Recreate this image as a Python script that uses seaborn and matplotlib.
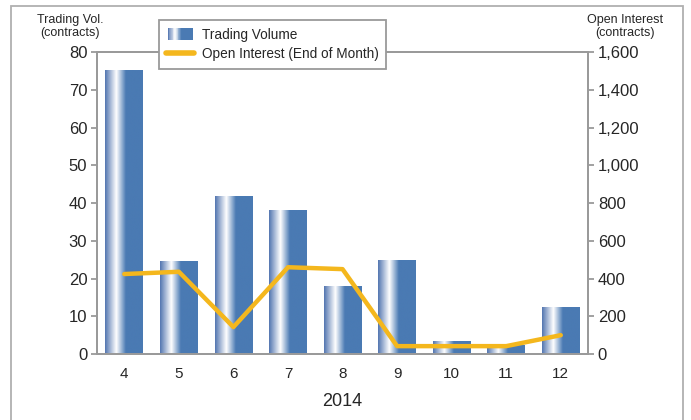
import numpy as np
import pandas as pd
import matplotlib
matplotlib.use("Agg")
import matplotlib.pyplot as plt
import seaborn as sns
from matplotlib.colors import LinearSegmentedColormap
from matplotlib.patches import Rectangle
from matplotlib.lines import Line2D
from matplotlib.legend_handler import HandlerBase
from matplotlib.ticker import FuncFormatter

# data
months = [4, 5, 6, 7, 8, 9, 10, 11, 12]
trading_volume = [75, 24.4, 41.6, 38.1, 18, 24.9, 3.4, 2.2, 12.2]
open_interest = [424, 436, 143, 460, 450, 42, 42, 42, 100]
legend_labels = ["Trading Volume", "Open Interest (End of Month)"]

BLUE = "#4a7ab3"
YELLOW = "#f4b71d"
GRAY = "#9a9a9a"

sns.set_theme(style="white")
plt.rcParams["font.family"] = ["Liberation Sans", "DejaVu Sans"]

grad = LinearSegmentedColormap.from_list(
    "cyl", [(0.0, "#5275b0"), (0.3, "#ffffff"), (0.55, BLUE), (1.0, BLUE)])


class GradientHandler(HandlerBase):
    # legend swatch drawn as thin strips so it shows the same gradient as the bars
    def create_artists(self, legend, orig_handle, xdescent, ydescent,
                       width, height, fontsize, trans):
        n = 30
        w = width * 0.9
        x0 = -xdescent + (width - w) / 2
        arts = []
        for i in range(n):
            c = grad((i + 0.5) / n)
            arts.append(Rectangle((x0 + i * w / n, -ydescent), w / n + 0.3, height,
                                  facecolor=c, edgecolor="none", transform=trans))
        return arts


df = pd.DataFrame({"month": [str(m) for m in months],
                   "volume": trading_volume,
                   "oi": open_interest})

fig = plt.figure(figsize=(6.91, 4.2), dpi=100)
ax = fig.add_axes([0.1404, 0.157, 0.7106, 0.719])
sns.barplot(data=df, x="month", y="volume", color=BLUE, width=0.69,
            saturation=1, ax=ax)

# cylinder-style gradient on each bar
img = np.linspace(0, 1, 256).reshape(1, -1)
for p in ax.patches:
    x, w, h = p.get_x(), p.get_width(), p.get_height()
    ax.imshow(img, cmap=grad, aspect="auto", extent=[x, x + w, 0, h],
              zorder=p.get_zorder() + 0.1, interpolation="bilinear")
ax.set_xlim(-0.5, len(months) - 0.5)
ax.set_ylim(0, 80)
ax.set_yticks(range(0, 81, 10))

ax2 = ax.twinx()
sns.lineplot(x=np.arange(len(months)), y=df["oi"], color=YELLOW, lw=3.2,
             ax=ax2, solid_capstyle="round")
ax2.set_ylim(0, 1600)
ax2.set_yticks(range(0, 1601, 200))
ax2.yaxis.set_major_formatter(FuncFormatter(lambda v, _: f"{int(v):,}"))
ax2.set_ylabel("")

# x ticks between categories, labels centered
ax.set_xticks(np.arange(-0.5, len(months), 1))
ax.set_xticklabels([])
ax.set_xticks(np.arange(len(months)), minor=True)
ax.set_xticklabels([str(m) for m in months], minor=True)
ax.tick_params(axis="x", which="major", length=5, width=1.3, color=GRAY, direction="out")
ax.tick_params(axis="x", which="minor", length=0, labelsize=11, pad=9)
ax.tick_params(axis="y", length=4, width=1.3, color=GRAY, labelsize=12, pad=3, left=True)
ax2.tick_params(axis="y", length=4, width=1.3, color=GRAY, labelsize=12, pad=3, right=True)
ax.set_xlabel("2014", fontsize=13, labelpad=9)
ax.set_ylabel("")

for a in (ax, ax2):
    for s in a.spines.values():
        s.set_visible(True)
        s.set_color(GRAY)
        s.set_linewidth(1.3)

fig.text(0.102, 0.937, "Trading Vol.\n(contracts)", ha="center", va="center",
         fontsize=9, linespacing=1.1)
fig.text(0.905, 0.937, "Open Interest\n(contracts)", ha="center", va="center",
         fontsize=9, linespacing=1.1)

# outer border
fig.patches.append(Rectangle((0.016, -0.05), 0.972, 1.036, transform=fig.transFigure,
                             fill=False, edgecolor="#b0b0b0", lw=1.3))

handles = [Rectangle((0, 0), 1, 1),
           Line2D([], [], color=YELLOW, lw=4, solid_capstyle="round")]
leg = fig.legend(handles, legend_labels,
                 loc="upper left", bbox_to_anchor=(0.23, 0.952), fontsize=9.8,
                 frameon=True, fancybox=False, handlelength=2.0, handleheight=0.9,
                 borderpad=0.55, labelspacing=0.4, handletextpad=0.6,
                 borderaxespad=0, handler_map={Rectangle: GradientHandler()})
leg.get_frame().set_edgecolor(GRAY)
leg.get_frame().set_linewidth(1.3)
leg.get_frame().set_alpha(1)

fig.savefig("out.png", dpi=100)
